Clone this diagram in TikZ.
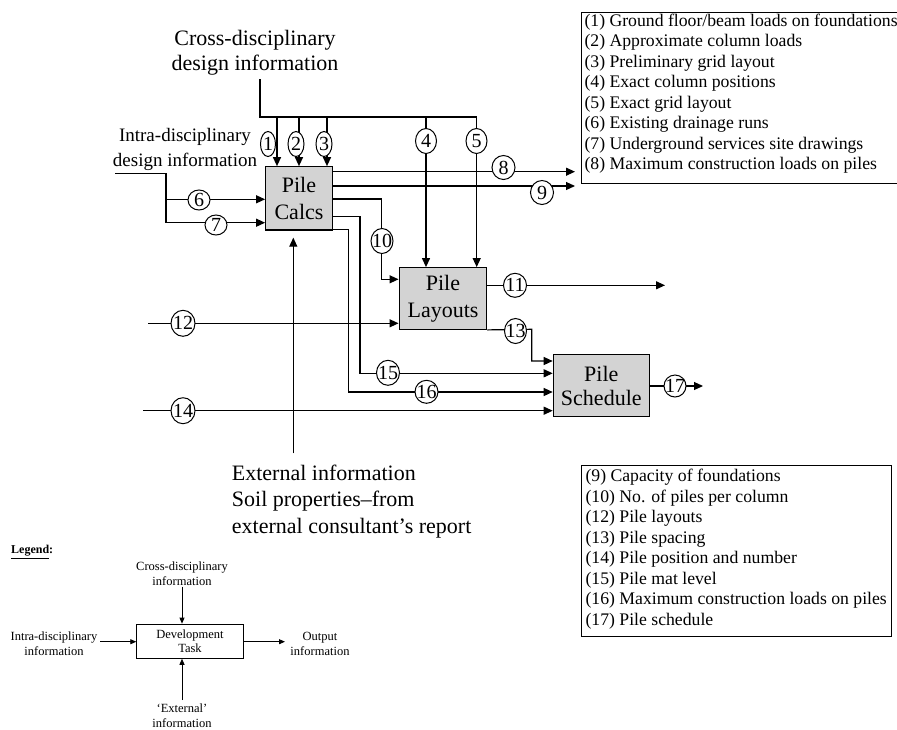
\documentclass[tikz,border=0pt]{standalone}
\usepackage{fontspec}
\setmainfont{Liberation Serif}
\usetikzlibrary{arrows.meta,shapes.geometric}
\definecolor{boxgray}{RGB}{211,211,211}
\newcommand\myfs[2]{\fontsize{#1}{#2}\selectfont}
\begin{document}
\begin{tikzpicture}[x=1pt,y=-1pt,
  ln/.style={line width=1.2pt},
  arr/.style={ln,-{Triangle[length=9pt,width=8pt]}},
  larr/.style={line width=0.8pt,-{Triangle[length=6pt,width=5pt]}},
  task/.style={draw,line width=1.2pt,fill=boxgray,inner sep=0pt,align=center,font=\myfs{22}{26.5}},
  num/.style={ellipse,draw,line width=1pt,fill=white,inner sep=0pt,minimum width=23pt,minimum height=24pt},
  numt/.style={inner sep=0pt,font=\myfs{20}{20}},
  lab/.style={align=center,inner sep=0pt},
  keybox/.style={draw,line width=1.1pt,inner sep=0pt,anchor=north west},
  keytxt/.style={anchor=west,align=left,inner sep=0pt,font=\myfs{17.7}{20.5}},
  ltxt/.style={align=center,inner sep=0pt,font=\myfs{12.5}{15}}
]
\useasboundingbox (0,0) rectangle (897,729);
\clip (0,0) rectangle (897,729);

% ---------- task boxes ----------
\node[task,minimum width=66.6pt,minimum height=63.3pt] (calcs) at (299,198.4) {Pile\\Calcs};
\node[task,minimum width=87.7pt,minimum height=61.6pt] (lay) at (443,298.5) {Pile\\Layouts};
\node[task,minimum width=96pt,minimum height=62pt,font=\myfs{22}{24}] (sch) at (601.3,385.7) {Pile\\Schedule};

% ---------- text labels ----------
\node[lab,font=\myfs{22}{25}] (crossT) at (255,52.5) {Cross-disciplinary\\design information};
\node[lab,font=\myfs{19}{25}] (intraT) at (185,149.5) {Intra-disciplinary\\design information};
\node[lab,align=left,anchor=west,font=\myfs{22}{26.5}] (extT) at (231.7,501.2) {External information\\Soil properties–from\\external consultant’s report};

% ---------- coordinates ----------
\coordinate (cr0) at (260,79.3);
\coordinate (cr1) at (260,117);
\coordinate (cr5) at (476.7,117);
\coordinate (d1) at (277,117);
\coordinate (d2) at (299,117);
\coordinate (d3) at (327,117);
\coordinate (d4) at (426,117);
\coordinate (in0) at (115,173.3);
\coordinate (in1) at (166,173.3);
\coordinate (in2) at (166,199.3);
\coordinate (in3) at (166,222.7);
\coordinate (o8) at (575,171.7);
\coordinate (o9) at (575,186);
\coordinate (k10) at (381.7,199);
\coordinate (k10b) at (381.7,279.3);
\coordinate (k15) at (360,216.7);
\coordinate (k15b) at (360,373.3);
\coordinate (k16) at (348.5,229.3);
\coordinate (k16b) at (348.5,392);
\coordinate (s12) at (148,323.3);
\coordinate (s14) at (143,410.7);
\coordinate (e0) at (293.3,453.3);
\coordinate (o11) at (665,285.3);
\coordinate (k13) at (531.7,329.3);
\coordinate (k13b) at (531.7,361);
\coordinate (o17) at (703,386);

% ---------- connectors ----------
\draw[arr] (cr0) -- (cr1) -- (cr5) -- (cr5 |- lay.north);
\draw[arr] (d1) -- (d1 |- calcs.north);
\draw[arr] (d2) -- (d2 |- calcs.north);
\draw[arr] (d3) -- (d3 |- calcs.north);
\draw[arr] (d4) -- (d4 |- lay.north);
\draw[arr] (in0) -- (in1) -- (in3) -- (in3 -| calcs.west);
\draw[arr] (in2) -- (in2 -| calcs.west);
\draw[arr] (calcs.east |- o8) -- (o8);
\draw[arr] (calcs.east |- o9) -- (o9);
\draw[arr] (calcs.east |- k10) -- (k10) -- (k10b) -- (k10b -| lay.west);
\draw[arr] (calcs.east |- k15) -- (k15) -- (k15b) -- (k15b -| sch.west);
\draw[arr] (calcs.east |- k16) -- (k16) -- (k16b) -- (k16b -| sch.west);
\draw[arr] (s12) -- (s12 -| lay.west);
\draw[arr] (s14) -- (s14 -| sch.west);
\draw[arr,shorten >=7pt] (e0) -- (e0 |- calcs.south);
\draw[arr] (lay.east |- o11) -- (o11);
\draw[arr] (lay.south east) -- (k13) -- (k13b) -- (k13b -| sch.west);
\draw[arr] (sch.east |- o17) -- (o17);

% ---------- numbered ellipses ----------
\node[num,minimum width=15pt,minimum height=25pt] (c1) at (268,144) {};
\node[numt] (t1) at (c1) {1};
\node[num,minimum width=16pt,minimum height=25pt] (c2) at (296,144) {};
\node[numt] (t2) at (c2) {2};
\node[num,minimum width=16pt,minimum height=25pt] (c3) at (324,144) {};
\node[numt] (t3) at (c3) {3};
\node[num,minimum width=21pt,minimum height=25pt] (c4) at (426,141) {};
\node[numt] (t4) at (c4) {4};
\node[num,minimum width=21pt,minimum height=25pt] (c5) at (476.5,141) {};
\node[numt] (t5) at (c5) {5};
\node[num,minimum width=22pt,minimum height=20pt] (c6) at (199,200) {};
\node[numt] (t6) at (c6) {6};
\node[num,minimum width=22pt,minimum height=20pt] (c7) at (216,225) {};
\node[numt] (t7) at (c7) {7};
\node[num] (c8) at (503.5,167.5) {};
\node[numt] (t8) at (c8) {8};
\node[num] (c9) at (542,192.5) {};
\node[numt] (t9) at (c9) {9};
\node[num,minimum width=22pt,minimum height=25pt] (c10) at (382,241) {};
\node[numt] (t10) at (c10) {10};
\node[num] (c11) at (515,285.3) {};
\node[numt] (t11) at (c11) {11};
\node[num,minimum width=24pt,minimum height=26pt] (c12) at (183,323.3) {};
\node[numt] (t12) at (c12) {12};
\node[num,minimum width=22pt,minimum height=25pt] (c13) at (515.5,331) {};
\node[numt] (t13) at (c13) {13};
\node[num,minimum width=24pt,minimum height=26pt] (c14) at (183,410.7) {};
\node[numt] (t14) at (c14) {14};
\node[num,minimum width=23pt,minimum height=25pt] (c15) at (388,372.8) {};
\node[numt] (t15) at (c15) {15};
\node[num,minimum width=23pt,minimum height=23pt] (c16) at (426.5,391.8) {};
\node[numt] (t16) at (c16) {16};
\node[num,minimum width=22pt,minimum height=22pt] (c17) at (675,386) {};
\node[numt] (t17) at (c17) {17};

% ---------- key boxes ----------
\node[keybox,minimum width=330pt,minimum height=171pt] (boxA) at (581,12) {};
\node[keytxt] (txtA) at (584.3,93.7) {(1) Ground floor/beam loads on foundations\\
(2) Approximate column loads\\
(3) Preliminary grid layout\\
(4) Exact column positions\\
(5) Exact grid layout\\
(6) Existing drainage runs\\
(7) Underground services site drawings\\
(8) Maximum construction loads on piles};

\node[keybox,minimum width=310pt,minimum height=171pt] (boxB) at (581,465) {};
\node[keytxt] (txtB) at (585.3,549) {(9) Capacity of foundations\\
(10) No. of piles per column\\
(12) Pile layouts\\
(13) Pile spacing\\
(14) Pile position and number\\
(15) Pile mat level\\
(16) Maximum construction loads on piles\\
(17) Pile schedule};

% ---------- legend ----------
\node[anchor=west,inner sep=0pt,font=\myfs{12}{14}\bfseries] (legT) at (11,552) {\underline{Legend}:};
\node[draw,line width=0.8pt,minimum width=106.6pt,minimum height=34.3pt,inner sep=0pt,align=center,font=\myfs{12.5}{14.3}] (dev) at (190,641.2) {Development\\Task};
\node[ltxt] (lcross) at (182,574) {Cross-disciplinary\\information};
\node[ltxt] (lintra) at (54,644) {Intra-disciplinary\\information};
\node[ltxt] (lout) at (320,644) {Output\\information};
\node[ltxt] (lext) at (182,715.5) {‘External’\\information};
\coordinate (lc0) at (182,586.7);
\coordinate (li0) at (100,641.7);
\coordinate (lo1) at (285,641.7);
\coordinate (le0) at (182,700);
\draw[larr] (lc0) -- (lc0 |- dev.north);
\draw[larr] (li0) -- (li0 -| dev.west);
\draw[larr] (dev.east |- lo1) -- (lo1);
\draw[larr] (le0) -- (le0 |- dev.south);
\end{tikzpicture}
\end{document}
